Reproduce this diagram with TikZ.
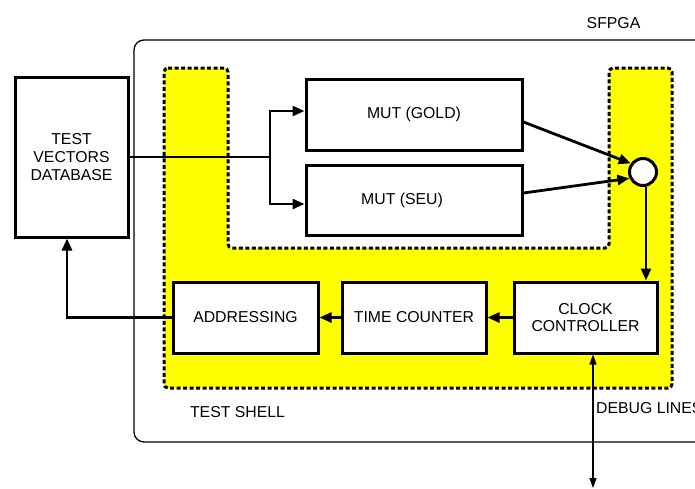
\documentclass[tikz,border=0pt]{standalone}
\usepackage{fontspec}
\setmainfont{Liberation Sans}
\usetikzlibrary{arrows.meta}
\definecolor{shellfill}{RGB}{255,255,0}
\begin{document}
\begin{tikzpicture}[x=1pt,y=-1pt,
  txt/.style={font=\fontsize{15.8}{17.8}\selectfont},
  blk/.style={txt,draw,line width=3pt,fill=white,inner sep=0pt,align=center},
  wire/.style={line width=2.8pt},
  tip/.style={-{Triangle[length=12pt,width=10pt]}},
  lbl/.style={txt,inner sep=0pt}]
\clip (0,0) rectangle (695,488);
\useasboundingbox (0,0) rectangle (695,488);

% FPGA frame
\draw[line width=1.3pt,rounded corners=10pt] (134,40) rectangle (730,442);
\node[lbl] (sfpga) at (613.5,23) {SFPGA};

% test shell region (U shape)
\draw[fill=shellfill,line width=3pt,dash pattern=on 4pt off 2.5pt,rounded corners=4pt]
  (164,68) -- (228,68) -- (228,248) -- (609,248) -- (609,68) -- (672,68)
  -- (672,388) -- (164,388) -- cycle;
\node[lbl] (shell) at (237.5,412) {TEST SHELL};
\node[lbl,anchor=west] (debug) at (596,408) {DEBUG LINES};

% blocks
\node[blk,minimum width=113pt,minimum height=160pt] (tvd) at (71.5,157) {TEST\\VECTORS\\DATABASE};
\node[blk,minimum width=216pt,minimum height=71pt] (gold) at (414,114.5) {MUT (GOLD)};
\node[blk,minimum width=216pt,minimum height=70pt] (seu) at (414,200) {\hspace*{-24pt}MUT (SEU)};
\node[blk,minimum width=145pt,minimum height=71pt] (addr) at (245.5,317.5) {ADDRESSING};
\node[blk,minimum width=144pt,minimum height=71pt] (tc) at (414,317.5) {TIME COUNTER};
\node[blk,minimum width=143pt,minimum height=71pt] (clk) at (585.5,317.5) {CLOCK\\CONTROLLER};
\node[draw,circle,line width=3pt,fill=white,minimum size=27pt,inner sep=0pt] (circ) at (643,172) {};

% test vectors fan-out
\coordinate (split) at (270,157);
\draw[wire] (tvd.east) -- (split);
\draw[wire,tip] (split) |- ([yshift=3.5pt]gold.west);
\draw[wire,tip] (split) |- ([yshift=-4pt]seu.west);

% comparator
\draw[wire,tip] ([yshift=-7.5pt]gold.east) -- (circ.145);
\draw[wire,tip] ([yshift=7pt]seu.east) -- (circ.205);
\draw[wire,tip] ([xshift=3pt]circ.south) -- ([xshift=3pt]circ.south |- clk.north);

% control chain
\draw[wire,tip] (clk.west) -- (tc.east);
\draw[wire,tip] (tc.west) -- (addr.east);
\coordinate (back) at (67,317.5);
\draw[wire,tip] (addr.west) -- (back) -- (back |- tvd.south);

% debug lines
\coordinate (dbg) at (593,488);
\draw[line width=1.1pt,{Triangle[length=10pt,width=7pt]}-{Triangle[length=10pt,width=7pt]}]
  (clk.south -| dbg) -- (dbg);
\end{tikzpicture}
\end{document}
